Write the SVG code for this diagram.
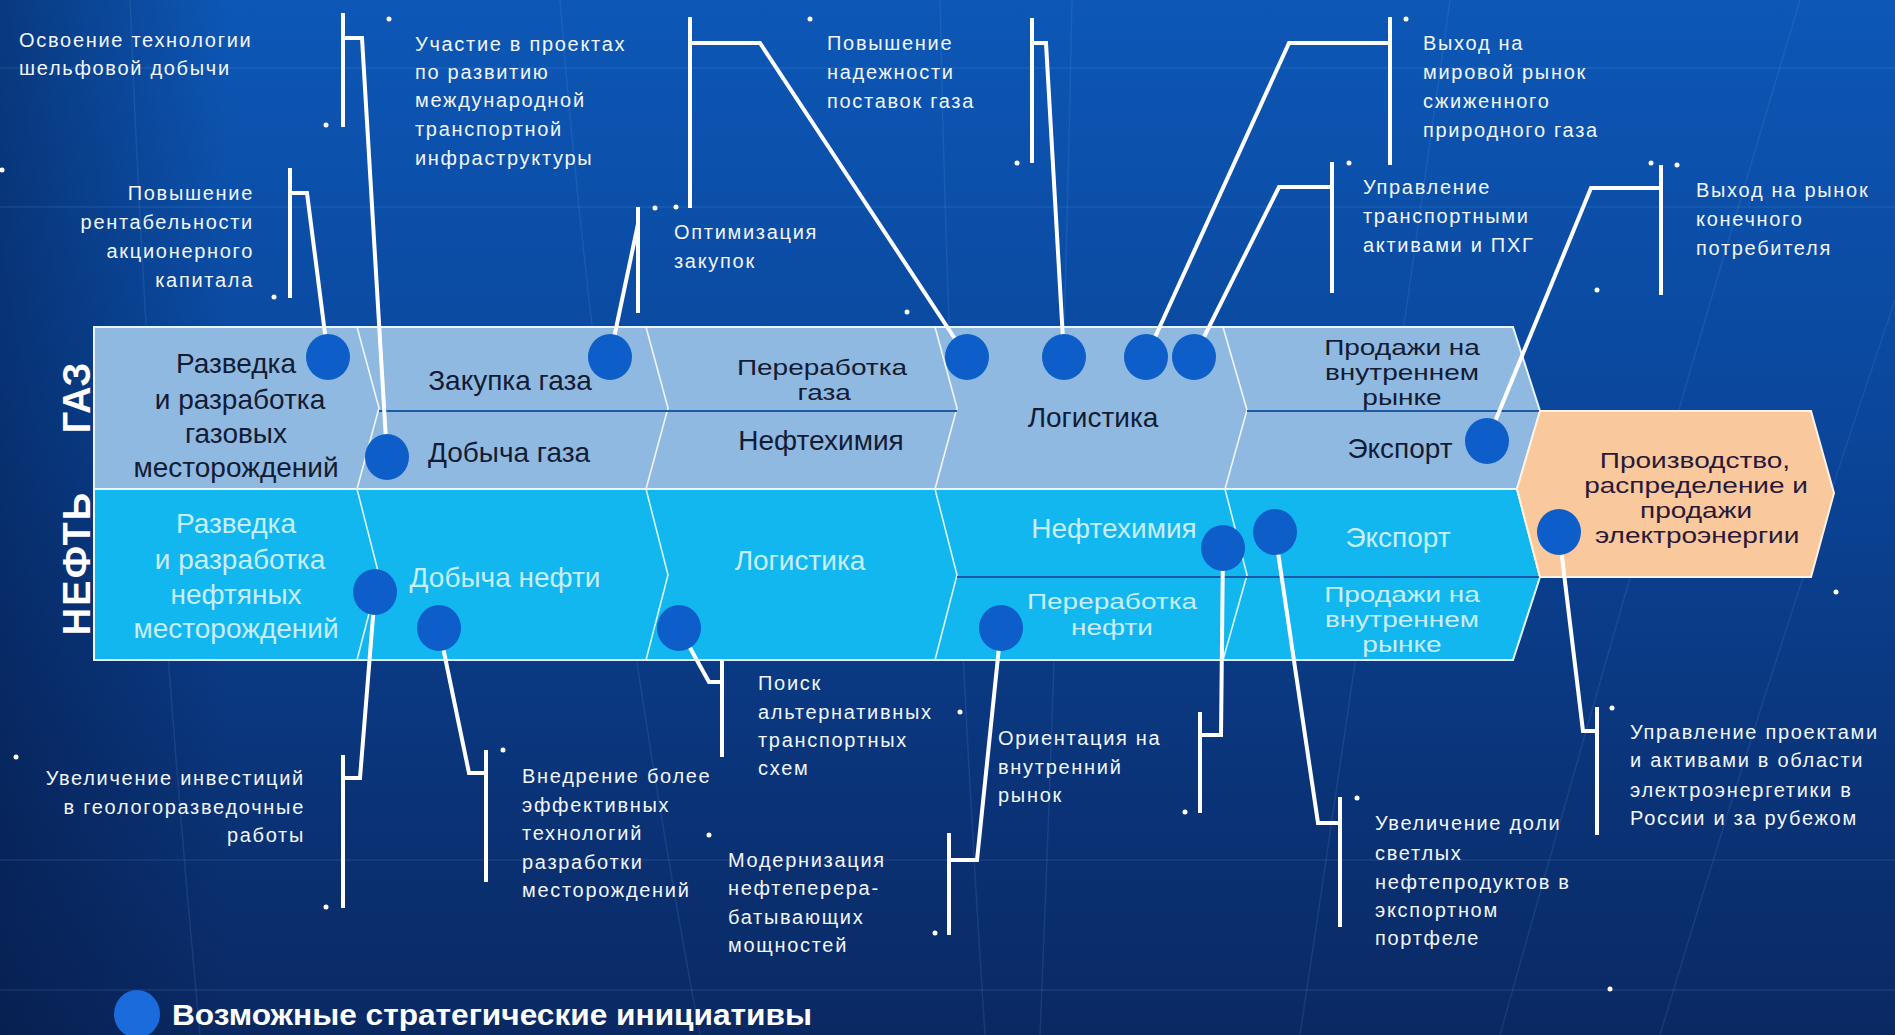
<svg xmlns="http://www.w3.org/2000/svg" width="1895" height="1035" viewBox="0 0 1895 1035">
<defs>
<linearGradient id="bg" x1="0" y1="0" x2="0" y2="1">
<stop offset="0" stop-color="#0d57b6"/>
<stop offset="0.4" stop-color="#0a479c"/>
<stop offset="0.75" stop-color="#0a3479"/>
<stop offset="1" stop-color="#0a2963"/>
</linearGradient>
<linearGradient id="side" x1="0" y1="0" x2="1" y2="0">
<stop offset="0" stop-color="#04153d" stop-opacity="0.45"/>
<stop offset="0.12" stop-color="#04153d" stop-opacity="0"/>
</linearGradient>
<style>
.lbl{font-family:"Liberation Sans",Arial,sans-serif;font-size:20px;fill:#f2f6ff;letter-spacing:1.7px}
.end{text-anchor:end}
.gt{font-family:"Liberation Sans",Arial,sans-serif;font-size:28px;fill:#141c33;text-anchor:middle}
.ot{font-family:"Liberation Sans",Arial,sans-serif;font-size:28px;fill:#c8eefc;text-anchor:middle}
.rt{font-family:"Liberation Sans",Arial,sans-serif;font-size:28px;fill:#2a1838;text-anchor:middle}
.sq{font-size:26px}
.vt{font-family:"Liberation Sans",Arial,sans-serif;font-size:38px;font-weight:bold;fill:#ffffff;text-anchor:middle}
.conn{stroke:#ffffff;stroke-width:4;fill:none;stroke-linejoin:miter}
.dot{fill:#0d5ec9}
.sep{stroke:#ffffff;stroke-width:1.6;fill:none;opacity:0.85}
.div{stroke:#1c5aa6;stroke-width:2.2}
.fl{stroke:#7fb2f0;stroke-width:1.5;fill:none;opacity:0.13}
.sd{fill:#ffffff}
</style>
</defs>
<rect x="0" y="0" width="1895" height="1035" fill="url(#bg)"/>
<rect x="0" y="0" width="1895" height="1035" fill="url(#side)"/>
<g id="background-lines">
<path class="fl" d="M0,68 H1895 M0,207 H1895 M0,860 H1895 M0,990 H1895"/>
<path class="fl" d="M130,0 Q150,500 200,1035"/>
<path class="fl" d="M560,0 Q600,500 700,1035"/>
<path class="fl" d="M940,0 Q950,500 985,1035"/>
<path class="fl" d="M1072,0 Q1062,500 1040,1035"/>
<path class="fl" d="M1450,0 Q1380,500 1300,1035"/>
<path class="fl" d="M1800,0 Q1650,500 1500,1035"/>
<path class="fl" d="M1895,300 Q1760,700 1660,1035"/>
</g>
<g id="specks">
<circle class="sd" cx="389" cy="19" r="2.5"/><circle class="sd" cx="326" cy="125" r="2.5"/>
<circle class="sd" cx="2" cy="170" r="2.5"/><circle class="sd" cx="274" cy="297" r="2.5"/>
<circle class="sd" cx="655" cy="208" r="2.5"/><circle class="sd" cx="676" cy="207" r="2.5"/>
<circle class="sd" cx="810" cy="19" r="2.5"/><circle class="sd" cx="907" cy="312" r="2.5"/>
<circle class="sd" cx="1017" cy="163" r="2.5"/><circle class="sd" cx="1406" cy="19" r="2.5"/>
<circle class="sd" cx="1349" cy="163" r="2.5"/><circle class="sd" cx="1651" cy="163" r="2.5"/>
<circle class="sd" cx="1677" cy="165" r="2.5"/><circle class="sd" cx="1597" cy="290" r="2.5"/>
<circle class="sd" cx="16" cy="757" r="2.5"/><circle class="sd" cx="326" cy="907" r="2.5"/>
<circle class="sd" cx="503" cy="750" r="2.5"/><circle class="sd" cx="960" cy="712" r="2.5"/>
<circle class="sd" cx="709" cy="835" r="2.5"/><circle class="sd" cx="935" cy="933" r="2.5"/>
<circle class="sd" cx="1185" cy="812" r="2.5"/><circle class="sd" cx="1612" cy="708" r="2.5"/>
<circle class="sd" cx="1357" cy="798" r="2.5"/><circle class="sd" cx="1610" cy="989" r="2.5"/>
<circle class="sd" cx="1836" cy="592" r="2.5"/>
</g>
<g id="band-gas">
<polygon points="94,327 1513,327 1540,411 1517,489 94,489" fill="#8fb9e1" stroke="#e8f4ff" stroke-width="2"/>
<path class="sep" d="M357,327 L379,408 L357,489 M646,327 L668,408 L646,489 M935,327 L957,408 L935,489 M1223,327 L1247,410 L1225,489"/>
<path class="div" d="M379,411 H957 M1247,411 H1540"/>
</g>
<g id="band-oil">
<polygon points="94,489 1517,489 1540,577 1513,660 94,660" fill="#12b7ef" stroke="#e8f8ff" stroke-width="2"/>
<path class="sep" d="M357,489 L379,575 L357,660 M646,489 L668,575 L646,660 M935,489 L957,575 L935,660 M1225,489 L1247,575 L1223,660"/>
<path class="div" d="M957,577 H1540"/>
</g>
<g id="label-gas"><text class="vt" transform="translate(90,398) rotate(-90)">ГАЗ</text></g>
<g id="label-oil"><text class="vt" letter-spacing="2" transform="translate(90,563) rotate(-90)">НЕФТЬ</text></g>
<g id="gas-exploration"><text class="gt"><tspan x="236" y="373">Разведка</tspan><tspan x="240" y="409">и разработка</tspan><tspan x="236" y="443">газовых</tspan><tspan x="236" y="477">месторождений</tspan></text></g>
<g id="gas-purchase"><text class="gt" x="510" y="390">Закупка газа</text></g>
<g id="gas-production"><text class="gt" x="509" y="462">Добыча газа</text></g>
<g id="gas-processing"><text class="gt sq" transform="translate(822,375) scale(1.077,0.86)"><tspan x="0" y="0">Переработка</tspan><tspan x="2" y="29">газа</tspan></text></g>
<g id="gas-petrochem"><text class="gt" x="821" y="450">Нефтехимия</text></g>
<g id="gas-logistics"><text class="gt" x="1093" y="427">Логистика</text></g>
<g id="gas-domestic"><text class="gt sq" transform="translate(1402,355) scale(1.077,0.86)"><tspan x="0" y="0">Продажи на</tspan><tspan x="0" y="29">внутреннем</tspan><tspan x="0" y="58">рынке</tspan></text></g>
<g id="gas-export"><text class="gt" x="1400" y="458">Экспорт</text></g>
<g id="power">
<polygon points="1540,411 1811,411 1834,493 1811,577 1540,577 1517,489" fill="#f9c89c" stroke="#fff2e4" stroke-width="2"/>
<text class="rt sq" transform="translate(1695,468) scale(1.077,0.86)"><tspan x="0" y="0">Производство,</tspan><tspan x="1" y="29">распределение и</tspan><tspan x="1" y="58">продажи</tspan><tspan x="2" y="87">электроэнергии</tspan></text>
</g>
<g id="oil-exploration"><text class="ot"><tspan x="236" y="533">Разведка</tspan><tspan x="240" y="569">и разработка</tspan><tspan x="236" y="604">нефтяных</tspan><tspan x="236" y="638">месторождений</tspan></text></g>
<g id="oil-production"><text class="ot" x="505" y="587">Добыча нефти</text></g>
<g id="oil-logistics"><text class="ot" x="800" y="570">Логистика</text></g>
<g id="oil-petrochem"><text class="ot" x="1114" y="538">Нефтехимия</text></g>
<g id="oil-processing"><text class="ot sq" transform="translate(1112,609) scale(1.077,0.86)"><tspan x="0" y="0">Переработка</tspan><tspan x="0" y="30">нефти</tspan></text></g>
<g id="oil-export"><text class="ot" x="1398" y="547">Экспорт</text></g>
<g id="oil-domestic"><text class="ot sq" transform="translate(1402,602) scale(1.077,0.86)"><tspan x="0" y="0">Продажи на</tspan><tspan x="0" y="29">внутреннем</tspan><tspan x="0" y="58">рынке</tspan></text></g>
<g id="connectors">
<path class="conn" d="M343,13 V127 M343,38 H362 L387,457"/>
<path class="conn" d="M290,168 V298 M290,193 H307 L328,357"/>
<path class="conn" d="M638,207 V313 M638,224 L610,357"/>
<path class="conn" d="M690,17 V208 M690,43 H760 L967,357"/>
<path class="conn" d="M1032,18 V163 M1032,43 H1046 L1064,357"/>
<path class="conn" d="M1390,17 V165 M1390,43 H1289 L1146,357"/>
<path class="conn" d="M1332,162 V293 M1332,187 H1279 L1194,357"/>
<path class="conn" d="M1661,165 V295 M1661,188 H1591 L1487,441"/>
<path class="conn" d="M343,755 V908 M343,778 H360 L375,592"/>
<path class="conn" d="M486,750 V882 M486,773 H469 L439,628"/>
<path class="conn" d="M722,660 V757 M722,682 H709 L679,628"/>
<path class="conn" d="M949,833 V935 M949,860 H977 L1001,628"/>
<path class="conn" d="M1200,712 V813 M1200,735 H1221 L1223,548"/>
<path class="conn" d="M1340,797 V927 M1340,823 H1318 L1275,532"/>
<path class="conn" d="M1597,707 V835 M1597,731 H1583 L1559,532"/>
</g>
<g id="initiative-dots">
<ellipse class="dot" cx="328" cy="357" rx="22" ry="23"/>
<ellipse class="dot" cx="387" cy="457" rx="22" ry="23"/>
<ellipse class="dot" cx="610" cy="357" rx="22" ry="23"/>
<ellipse class="dot" cx="967" cy="357" rx="22" ry="23"/>
<ellipse class="dot" cx="1064" cy="357" rx="22" ry="23"/>
<ellipse class="dot" cx="1146" cy="357" rx="22" ry="23"/>
<ellipse class="dot" cx="1194" cy="357" rx="22" ry="23"/>
<ellipse class="dot" cx="1487" cy="441" rx="22" ry="23"/>
<ellipse class="dot" cx="375" cy="592" rx="22" ry="23"/>
<ellipse class="dot" cx="439" cy="628" rx="22" ry="23"/>
<ellipse class="dot" cx="679" cy="628" rx="22" ry="23"/>
<ellipse class="dot" cx="1001" cy="628" rx="22" ry="23"/>
<ellipse class="dot" cx="1223" cy="548" rx="22" ry="23"/>
<ellipse class="dot" cx="1275" cy="532" rx="22" ry="23"/>
<ellipse class="dot" cx="1559" cy="532" rx="22" ry="23"/>
</g>
<g id="init-offshore"><text class="lbl"><tspan x="19" y="47">Освоение технологии</tspan><tspan x="19" y="75">шельфовой добычи</tspan></text></g>
<g id="init-transport-intl"><text class="lbl"><tspan x="415" y="51">Участие в проектах</tspan><tspan x="415" y="79">по развитию</tspan><tspan x="415" y="107">международной</tspan><tspan x="415" y="136">транспортной</tspan><tspan x="415" y="165">инфраструктуры</tspan></text></g>
<g id="init-profitability"><text class="lbl end"><tspan x="254" y="200">Повышение</tspan><tspan x="254" y="229">рентабельности</tspan><tspan x="254" y="258">акционерного</tspan><tspan x="254" y="287">капитала</tspan></text></g>
<g id="init-purchase"><text class="lbl"><tspan x="674" y="239">Оптимизация</tspan><tspan x="674" y="268">закупок</tspan></text></g>
<g id="init-reliability"><text class="lbl"><tspan x="827" y="50">Повышение</tspan><tspan x="827" y="79">надежности</tspan><tspan x="827" y="108">поставок газа</tspan></text></g>
<g id="init-lng"><text class="lbl"><tspan x="1423" y="50">Выход на</tspan><tspan x="1423" y="79">мировой  рынок</tspan><tspan x="1423" y="108">сжиженного</tspan><tspan x="1423" y="137">природного газа</tspan></text></g>
<g id="init-transport-assets"><text class="lbl"><tspan x="1363" y="194">Управление</tspan><tspan x="1363" y="223">транспортными</tspan><tspan x="1363" y="252">активами и ПХГ</tspan></text></g>
<g id="init-end-consumer"><text class="lbl"><tspan x="1696" y="197">Выход на рынок</tspan><tspan x="1696" y="226">конечного</tspan><tspan x="1696" y="255">потребителя</tspan></text></g>
<g id="init-geology"><text class="lbl end"><tspan x="305" y="785">Увеличение инвестиций</tspan><tspan x="305" y="814">в геологоразведочные</tspan><tspan x="305" y="842">работы</tspan></text></g>
<g id="init-tech"><text class="lbl"><tspan x="522" y="783">Внедрение более</tspan><tspan x="522" y="812">эффективных</tspan><tspan x="522" y="840">технологий</tspan><tspan x="522" y="869">разработки</tspan><tspan x="522" y="897">месторождений</tspan></text></g>
<g id="init-alt-transport"><text class="lbl"><tspan x="758" y="690">Поиск</tspan><tspan x="758" y="719">альтернативных</tspan><tspan x="758" y="747">транспортных</tspan><tspan x="758" y="775">схем</tspan></text></g>
<g id="init-modernization"><text class="lbl"><tspan x="728" y="867">Модернизация</tspan><tspan x="728" y="895">нефтеперера-</tspan><tspan x="728" y="924">батывающих</tspan><tspan x="728" y="952">мощностей</tspan></text></g>
<g id="init-domestic"><text class="lbl"><tspan x="998" y="745">Ориентация на</tspan><tspan x="998" y="774">внутренний</tspan><tspan x="998" y="802">рынок</tspan></text></g>
<g id="init-light-products"><text class="lbl"><tspan x="1375" y="830">Увеличение доли</tspan><tspan x="1375" y="860">светлых</tspan><tspan x="1375" y="889">нефтепродуктов в</tspan><tspan x="1375" y="917">экспортном</tspan><tspan x="1375" y="945">портфеле</tspan></text></g>
<g id="init-power"><text class="lbl"><tspan x="1630" y="739">Управление проектами</tspan><tspan x="1630" y="767">и активами в области</tspan><tspan x="1630" y="797">электроэнергетики в</tspan><tspan x="1630" y="825">России и за рубежом</tspan></text></g>
<g id="legend">
<ellipse cx="137" cy="1014" rx="23" ry="24" fill="#1a6bdc"/>
<text x="172" y="1025" font-family="'Liberation Sans',Arial,sans-serif" font-size="30" font-weight="bold" fill="#ffffff" textLength="640" lengthAdjust="spacingAndGlyphs">Возможные стратегические инициативы</text>
</g>
</svg>
